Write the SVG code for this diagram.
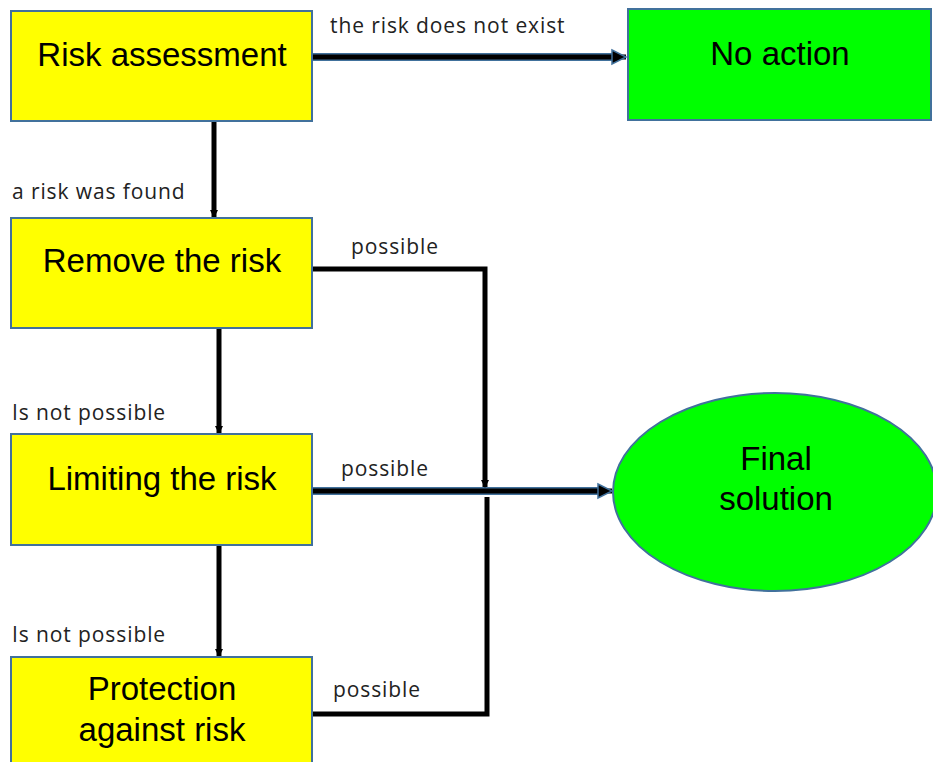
<svg xmlns="http://www.w3.org/2000/svg" width="933" height="762" viewBox="0 0 933 762">
  <defs>
    <style>
      .box { fill: #ffff00; stroke: #41719c; stroke-width: 2; }
      .goal { fill: #00ff00; stroke: #41719c; stroke-width: 2; }
      .title { font-family: "Liberation Sans", Arial, sans-serif; font-size: 33px; fill: #000; text-anchor: middle; }
      .lbl { font-family: "Open Sans", "DejaVu Sans", sans-serif; font-size: 21px; letter-spacing: 0.9px; fill: #222; }
      .wire { fill: none; stroke: #000; stroke-width: 5; }
      .edge { fill: none; stroke: #41719c; stroke-width: 8; }
      .core { fill: none; stroke: #000; stroke-width: 5; }
    </style>
    <marker id="headBlue" markerUnits="userSpaceOnUse" markerWidth="18" markerHeight="18" refX="16" refY="9" orient="auto">
      <path d="M2,2 L16,9 L2,16 Z" fill="#000" stroke="#41719c" stroke-width="1.5"/>
    </marker>
    <marker id="headDown" markerUnits="userSpaceOnUse" markerWidth="10" markerHeight="10" refX="8" refY="5" orient="auto">
      <path d="M1,1 L9,5 L1,9 Z" fill="#000"/>
    </marker>
  </defs>

  <!-- connectors -->
  <g id="connectors">
    <!-- assessment -> no action -->
    <line class="edge" x1="310" y1="57" x2="616" y2="57"/>
    <line class="core" x1="310" y1="57" x2="626" y2="57" marker-end="url(#headBlue)"/>
    <!-- limiting -> final solution -->
    <line class="edge" x1="313" y1="491" x2="600" y2="491"/>
    <line class="core" x1="313" y1="491" x2="612" y2="491" marker-end="url(#headBlue)"/>
    <!-- vertical chain -->
    <line class="wire" x1="214" y1="121" x2="214" y2="217" marker-end="url(#headDown)"/>
    <line class="wire" x1="219" y1="328" x2="219" y2="433" marker-end="url(#headDown)"/>
    <line class="wire" x1="219" y1="545" x2="219" y2="656" marker-end="url(#headDown)"/>
    <!-- remove (possible) -> joins main line -->
    <polyline class="wire" points="313,269 485,269 485,487" marker-end="url(#headDown)"/>
    <!-- protection (possible) -> joins main line -->
    <polyline class="wire" points="313,714 487,714 487,497"/>
  </g>

  <!-- labels on connectors -->
  <g id="labels">
    <text class="lbl" x="330" y="33">the risk does not exist</text>
    <text class="lbl" x="12" y="199">a risk was found</text>
    <text class="lbl" x="351" y="254">possible</text>
    <text class="lbl" x="12" y="420">Is not possible</text>
    <text class="lbl" x="341" y="476">possible</text>
    <text class="lbl" x="12" y="642">Is not possible</text>
    <text class="lbl" x="333" y="697">possible</text>
  </g>

  <g id="risk-assessment">
    <rect class="box" x="11" y="11" width="301" height="110"/>
    <text class="title" x="162" y="66">Risk assessment</text>
  </g>

  <g id="no-action">
    <rect class="goal" x="628" y="9" width="303" height="111"/>
    <text class="title" x="780" y="65">No action</text>
  </g>

  <g id="remove-risk">
    <rect class="box" x="11" y="218" width="301" height="110"/>
    <text class="title" x="162" y="272">Remove the risk</text>
  </g>

  <g id="limiting-risk">
    <rect class="box" x="11" y="434" width="301" height="111"/>
    <text class="title" x="162" y="490">Limiting the risk</text>
  </g>

  <g id="protection">
    <rect class="box" x="11" y="657" width="301" height="110"/>
    <text class="title" x="162" y="700">Protection</text>
    <text class="title" x="162" y="741">against risk</text>
  </g>

  <g id="final-solution">
    <ellipse class="goal" cx="775" cy="492" rx="162" ry="99"/>
    <text class="title" x="776" y="470">Final</text>
    <text class="title" x="776" y="510">solution</text>
  </g>
</svg>
